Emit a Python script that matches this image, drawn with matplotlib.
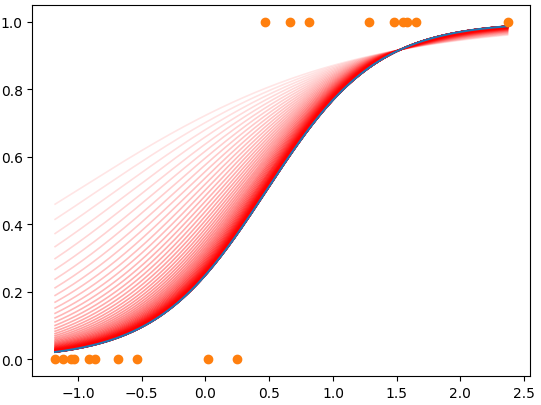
import numpy as np
import matplotlib
matplotlib.use("Agg")
from matplotlib import pyplot as plt

# data points
x0 = [-1.18, -1.12, -1.055, -1.03, -0.91, -0.87, -0.685, -0.535, 0.017, 0.25]
x1 = [0.466, 0.66, 0.81, 1.285, 1.48, 1.55, 1.58, 1.65, 2.37]

# start and end parameters of the fitted sigmoid (w, b)
w_start, b_start = 0.95, 0.96
w_end, b_end = 2.3, -1.1
n_steps = 60

def sigmoid(z):
    return 1.0 / (1.0 + np.exp(-z))

xs = np.linspace(min(x0), max(x1), 200)

fig, ax = plt.subplots(figsize=(5.41, 4.06), dpi=100)
for i in range(n_steps):
    s = i / (n_steps - 1)
    t = 1 - (1 - s) ** 3
    w = w_start + t * (w_end - w_start)
    b = b_start + t * (b_end - b_start)
    ax.plot(xs, sigmoid(w * xs + b), color="red", alpha=0.1 + 0.9 * s, lw=1.2)
ax.plot(xs, sigmoid(w_end * xs + b_end), color="C0", lw=1.5)
ax.scatter(x0, np.zeros(len(x0)), color="C1", zorder=3)
ax.scatter(x1, np.ones(len(x1)), color="C1", zorder=3)
fig.subplots_adjust(left=0.06, right=0.98, bottom=0.071, top=0.985)
fig.savefig("out.png")
